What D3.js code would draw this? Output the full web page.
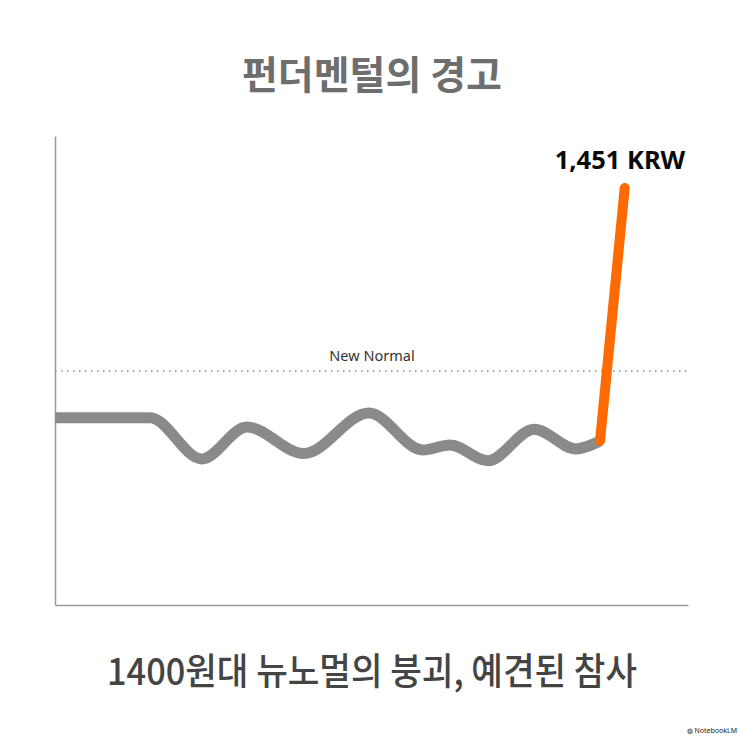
<!DOCTYPE html>
<html>
<head>
<meta charset="utf-8">
<script src="https://cdn.jsdelivr.net/npm/d3@7"></script>
<style>
  html, body { margin: 0; padding: 0; background: #fff; }
  svg { display: block; }
</style>
</head>
<body>
<svg id="chart"></svg>
<script>
// time index (arbitrary units) and KRW level of the wavy "normal" line
const days = [0, 15, 23.2, 30.3, 39.3, 49.6, 58.1, 62.4, 68.4, 75.7, 82.3, 86.1];
const rates = [1387, 1387, 1375.5, 1384.4, 1377, 1388.3, 1378, 1379.4, 1375, 1383.8, 1378.3, 1380.5];
// the spike
const spikeDays = [86.1, 90];
const spikeRates = [1380.5, 1451];
const newNormal = 1400;

const titleText = '펀더멘털의 경고';
const subtitleText = '1400원대 뉴노멀의 붕괴, 예견된 참사';
const spikeLabel = '1,451 KRW';
const normalLabel = 'New Normal';

const W = 743, H = 743;
const margin = {top: 136, right: 55, bottom: 138, left: 55};

const svg = d3.select('#chart')
    .attr('width', W)
    .attr('height', H);

svg.append('rect').attr('width', W).attr('height', H).attr('fill', '#fff');

const x = d3.scaleLinear()
    .domain([0, 100])
    .range([margin.left, W - margin.right]);

const y = d3.scaleLinear()
    .domain([1334.8, 1465.5])
    .range([H - margin.bottom, margin.top]);

// axes (just the lines, no ticks)
svg.append('g')
    .attr('transform', `translate(0,${H - margin.bottom})`)
    .call(d3.axisBottom(x).tickValues([]).tickSizeOuter(0))
    .call(g => g.select('.domain').attr('stroke', '#9a9a9a').attr('stroke-width', 1.5));

svg.append('g')
    .attr('transform', `translate(${margin.left},0)`)
    .call(d3.axisLeft(y).tickValues([]).tickSizeOuter(0))
    .call(g => g.select('.domain').attr('stroke', '#9a9a9a').attr('stroke-width', 1.5));

// new normal reference line
svg.append('line')
    .attr('x1', x(0))
    .attr('x2', x(100))
    .attr('y1', y(newNormal))
    .attr('y2', y(newNormal))
    .attr('stroke', '#8a8a8a')
    .attr('stroke-width', 1.5)
    .attr('stroke-dasharray', '1.5,4.5');

svg.append('text')
    .attr('x', 372)
    .attr('y', y(newNormal) - 10)
    .attr('text-anchor', 'middle')
    .attr('font-family', '"Noto Sans", sans-serif')
    .attr('font-size', 14.5)
    .attr('fill', '#333')
    .text(normalLabel);

// wavy line
const line = d3.line()
    .x((d, i) => x(days[i]))
    .y(d => y(d))
    .curve(d3.curveMonotoneX);

svg.append('path')
    .datum(rates)
    .attr('d', line)
    .attr('fill', 'none')
    .attr('stroke', '#8a8a8a')
    .attr('stroke-width', 11);

// spike
const spikeLine = d3.line()
    .x((d, i) => x(spikeDays[i]))
    .y(d => y(d));

svg.append('path')
    .datum(spikeRates)
    .attr('d', spikeLine)
    .attr('fill', 'none')
    .attr('stroke', '#ff6a00')
    .attr('stroke-width', 10)
    .attr('stroke-linecap', 'round');

svg.append('text')
    .attr('x', 620)
    .attr('y', 169)
    .attr('text-anchor', 'middle')
    .attr('font-family', '"Noto Sans", sans-serif')
    .attr('font-weight', 'bold')
    .attr('font-size', 25.5)
    .attr('fill', '#0a0a0a')
    .text(spikeLabel);

// titles
svg.append('text')
    .attr('x', 372)
    .attr('y', 89)
    .attr('text-anchor', 'middle')
    .attr('font-family', '"Noto Sans CJK KR", sans-serif')
    .attr('font-weight', 'bold')
    .attr('font-size', 39)
    .attr('fill', '#6e6e6e')
    .text(titleText);

// subtitle: condensed look, squeezed to the reference width
svg.append('text')
    .attr('x', 107)
    .attr('y', 685)
    .attr('font-family', '"Noto Sans CJK KR", sans-serif')
    .attr('font-weight', 500)
    .attr('font-size', 37)
    .attr('textLength', 530)
    .attr('lengthAdjust', 'spacingAndGlyphs')
    .attr('fill', '#444')
    .text(subtitleText);

// watermark
svg.append('text')
    .attr('x', 737)
    .attr('y', 733)
    .attr('text-anchor', 'end')
    .attr('font-family', '"Noto Sans", sans-serif')
    .attr('font-size', 7)
    .attr('fill', '#222')
    .text('◍ NotebookLM');
</script>
</body>
</html>
